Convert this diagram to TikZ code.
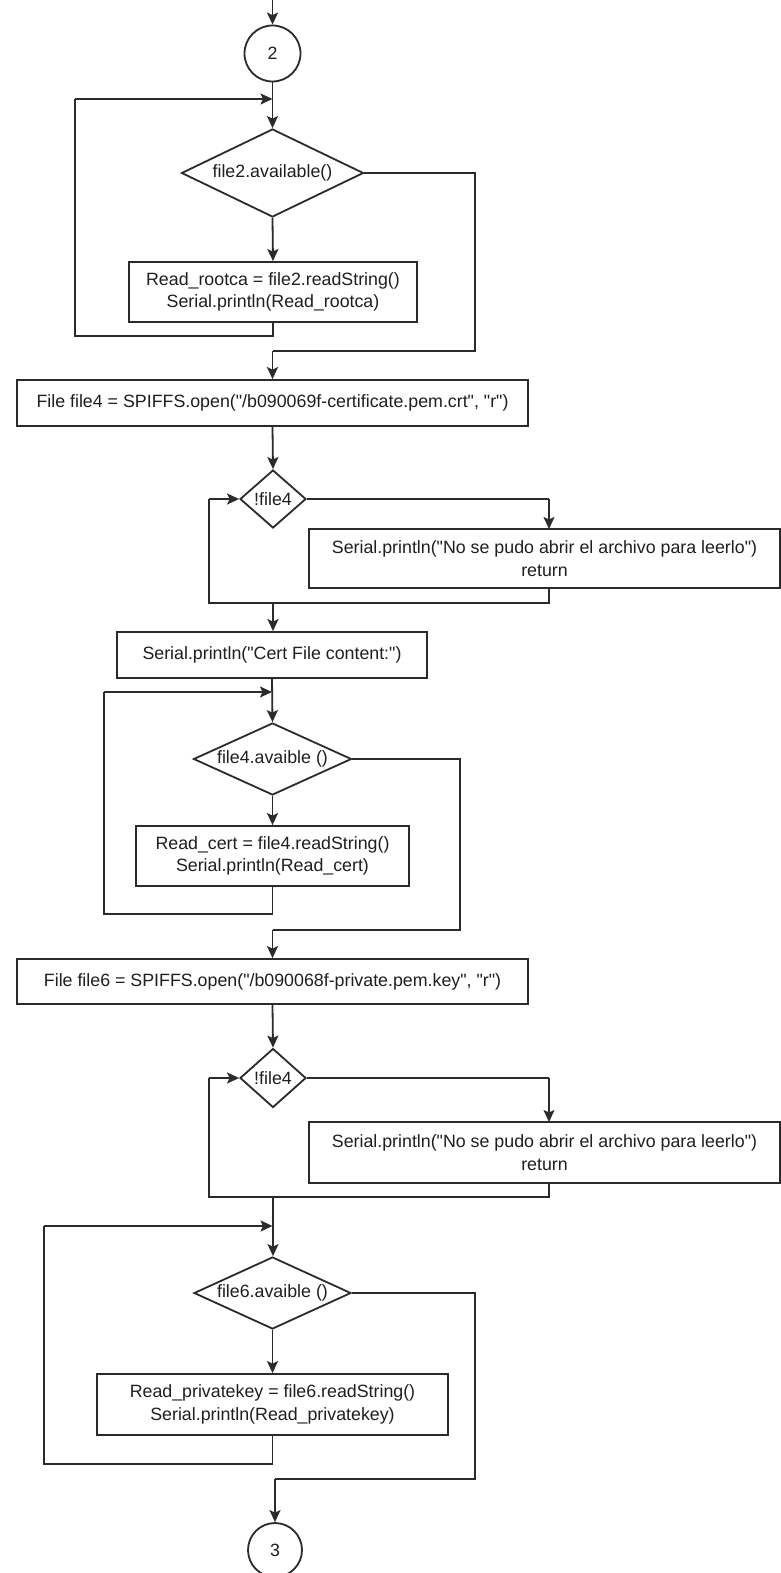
\documentclass[tikz,border=0pt]{standalone}
\usepackage{fontspec}
\setmainfont{Liberation Sans}[Ligatures=TeXOff]
\usetikzlibrary{shapes.geometric,arrows.meta,calc}
\definecolor{ln}{rgb}{0.17,0.17,0.17}
\definecolor{tx}{rgb}{0.12,0.12,0.12}
\newcommand{\dq}{\symbol{34}}
\begin{document}
\begin{tikzpicture}[x=1pt,y=-1pt,
  every node/.style={font=\fontsize{17.8}{22.7}\selectfont, text=tx},
  line/.style={draw=ln, line width=1.8pt},
  arr/.style={line, -{Stealth[length=12pt,width=11pt,inset=2.5pt]}},
  procbox/.style={draw=ln, line width=1.8pt, rectangle, inner sep=0pt, align=center},
  decbox/.style={draw=ln, line width=1.8pt, diamond, inner sep=0pt, align=center},
  conn/.style={draw=ln, line width=1.8pt, circle, inner sep=0pt, minimum size=56pt}
]
\useasboundingbox (0,0) rectangle (781,1573);
\fill[white] (0,0) rectangle (781,1573);

% nodes
\node[conn] (c2) at (272.5,53.5) {2};
\node[decbox, minimum width=182pt, minimum height=88pt, shape aspect=2.07] (d1) at (272.5,173) {file2.available()};
\node[procbox, minimum width=288pt, minimum height=60pt] (b1) at (273,292) {Read\_rootca = file2.readString()\\Serial.println(Read\_rootca)};
\node[procbox, minimum width=511pt, minimum height=46pt] (f4) at (272.5,403) {File file4 = SPIFFS.open(\dq/b090069f-certificate.pem.crt\dq, \dq r\dq)};
\node[decbox, minimum width=66pt, minimum height=58pt, shape aspect=1.14] (d2) at (273,499) {!file4};
\node[procbox, minimum width=471pt, minimum height=59pt] (e1) at (544.5,558.5) {Serial.println(\dq No se pudo abrir el archivo para leerlo\dq)\\return};
\node[procbox, minimum width=310pt, minimum height=46pt] (b2) at (272,655) {Serial.println(\dq Cert File content:\dq)};
\node[decbox, minimum width=158pt, minimum height=72pt, shape aspect=2.19] (d3) at (272.5,759) {file4.avaible ()};
\node[procbox, minimum width=273pt, minimum height=60pt] (b3) at (272.5,856) {Read\_cert = file4.readString()\\Serial.println(Read\_cert)};
\node[procbox, minimum width=511pt, minimum height=45pt] (f6) at (272.5,981.5) {File file6 = SPIFFS.open(\dq/b090068f-private.pem.key\dq, \dq r\dq)};
\node[decbox, minimum width=66pt, minimum height=59pt, shape aspect=1.12] (d4) at (273,1078) {!file4};
\node[procbox, minimum width=471pt, minimum height=61pt] (e2) at (544.5,1152.5) {Serial.println(\dq No se pudo abrir el archivo para leerlo\dq)\\return};
\node[decbox, minimum width=157pt, minimum height=72pt, shape aspect=2.18] (d5) at (272.5,1293) {file6.avaible ()};
\node[procbox, minimum width=351pt, minimum height=61pt] (b5) at (272.5,1404.5) {Read\_privatekey = file6.readString()\\Serial.println(Read\_privatekey)};
\node[conn, minimum size=54pt] (c3) at (275,1550) {3};

% coordinates
\coordinate (top) at (272.5,0);
\coordinate (j1) at (272.5,99);
\coordinate (l1a) at (273,336);
\coordinate (l1b) at (75,336);
\coordinate (l1c) at (75,99);
\coordinate (r1a) at (475,173);
\coordinate (r1b) at (475,351);
\coordinate (m1) at (272.5,351);
\coordinate (e1t) at (549,529);
\coordinate (e1b) at (549,588);
\coordinate (e1c) at (549,603);
\coordinate (m2) at (273,603);
\coordinate (e1d) at (209,603);
\coordinate (e1e) at (209,499);
\coordinate (j2) at (272,692);
\coordinate (l2a) at (272.5,914);
\coordinate (l2b) at (104,914);
\coordinate (l2c) at (104,692);
\coordinate (r2a) at (460,759);
\coordinate (r2b) at (460,930);
\coordinate (m3) at (272.5,930);
\coordinate (e2t) at (549,1122);
\coordinate (e2b) at (549,1183);
\coordinate (e2c) at (549,1197);
\coordinate (m4) at (273,1197);
\coordinate (e2d) at (209,1197);
\coordinate (e2e) at (209,1078);
\coordinate (j3) at (272.5,1226);
\coordinate (l3a) at (272.5,1464);
\coordinate (l3b) at (44,1464);
\coordinate (l3c) at (44,1226);
\coordinate (r3a) at (475,1293);
\coordinate (r3b) at (475,1479);
\coordinate (m5) at (275,1479);

% connectors
\draw[arr] (top) -- (c2.north);
\draw[arr] (c2.south) -- (d1.north);
\draw[arr] (d1.south) -- (b1.north);
\draw[line] (b1.south -| l1a) -- (l1a) -- (l1b) -- (l1c);
\draw[arr] (l1c) -- (j1);
\draw[line] (d1.east) -- (r1a) -- (r1b) -- (m1);
\draw[arr] (m1) -- (f4.north);
\draw[arr] (f4.south) -- (d2.north);
\draw[line] (d2.east) -- (d2.east -| e1t);
\draw[arr] (d2.east -| e1t) -- (e1t);
\draw[line] (e1b) -- (e1c) -- (e1d) -- (e1e);
\draw[arr] (e1e) -- (d2.west);
\draw[arr] (m2) -- (b2.north -| m2);
\draw[arr] (b2.south) -- (d3.north);
\draw[arr] (d3.south) -- (b3.north);
\draw[line] (b3.south) -- (l2a) -- (l2b) -- (l2c);
\draw[arr] (l2c) -- (j2);
\draw[line] (d3.east) -- (r2a) -- (r2b) -- (m3);
\draw[arr] (m3) -- (f6.north);
\draw[arr] (f6.south) -- (d4.north);
\draw[line] (d4.east) -- (d4.east -| e2t);
\draw[arr] (d4.east -| e2t) -- (e2t);
\draw[line] (e2b) -- (e2c) -- (e2d) -- (e2e);
\draw[arr] (e2e) -- (d4.west);
\draw[arr] (m4) -- (d5.north -| m4);
\draw[arr] (d5.south) -- (b5.north);
\draw[line] (b5.south) -- (l3a) -- (l3b) -- (l3c);
\draw[arr] (l3c) -- (j3);
\draw[line] (d5.east) -- (r3a) -- (r3b) -- (m5);
\draw[arr] (m5) -- (c3.north);
\end{tikzpicture}
\end{document}
